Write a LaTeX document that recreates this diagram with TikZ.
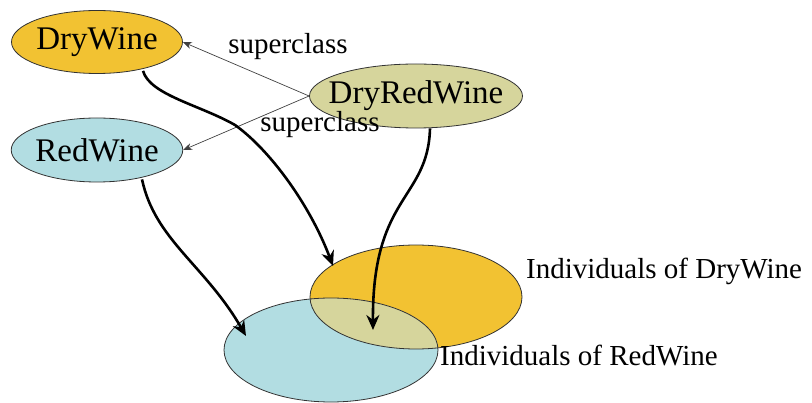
\documentclass[tikz,border=0pt]{standalone}
\usepackage{fontspec}
\setmainfont{Liberation Serif}
\usetikzlibrary{shapes.geometric,arrows.meta,calc}
\definecolor{dryc}{HTML}{F2C232}
\definecolor{redc}{HTML}{B2DDE2}
\definecolor{bothc}{HTML}{D6D59C}
\tikzset{
  cls/.style={ellipse, draw=black!80, line width=0.8pt, inner sep=0pt, font=\fontsize{33}{35}\selectfont},
  lbl/.style={font=\fontsize{29}{31}\selectfont, inner sep=0pt},
  thin/.style={draw=black!75, line width=0.7pt, -{Stealth[length=9pt,width=7pt]}},
  thick/.style={draw=black, line width=2.6pt, -{Stealth[length=15pt,width=13pt]}},
}
\begin{document}
\begin{tikzpicture}[x=1pt,y=-1pt]
\useasboundingbox (0,0) rectangle (812,403);
% Venn sets
\coordinate (dset) at (416,297);
\coordinate (rset) at (331,350);
\fill[dryc] (dset) ellipse [x radius=106, y radius=52];
\fill[redc] (rset) ellipse [x radius=107, y radius=52];
\begin{scope}
  \clip (dset) ellipse [x radius=106, y radius=52];
  \fill[bothc] (rset) ellipse [x radius=107, y radius=52];
\end{scope}
\draw[black!80, line width=0.8pt] (dset) ellipse [x radius=106, y radius=52];
\draw[black!80, line width=0.8pt] (rset) ellipse [x radius=107, y radius=52];
\node[lbl, anchor=west] (ld) at (526,271) {Individuals of DryWine};
\node[lbl, anchor=west] (lr) at (440,356) {Individuals of RedWine};
% class nodes
\node[cls, fill=dryc, inner xsep=-1pt, minimum width=171, minimum height=63] (dry) at (97,42) {DryWine};
\node[cls, fill=redc, inner xsep=-1pt, minimum width=171, minimum height=64] (red) at (97,150) {RedWine};
\node[cls, fill=bothc, inner xsep=-12.5pt, minimum width=213, minimum height=64] (dr) at (416,96) {DryRedWine};
% superclass arrows
\draw[thin] (dr.west) -- (dry.east);
\draw[thin] (dr.west) -- (red.east);
\node[lbl] (s1) at (288,47) {superclass};
\node[lbl] (s2) at (320,125) {superclass};
% extension arrows
\coordinate (t1) at (333,266);
\coordinate (t2) at (246,336);
\coordinate (t3) at (373,330);
\draw[thick] ($(dry.south)+(46,-3)$) .. controls (150,95) and (200,105) .. (235,125) .. controls (270,150) and (310,205) .. (t1);
\draw[thick] ($(red.south)+(45,-3)$) .. controls (155,240) and (205,265) .. (t2);
\draw[thick] ($(dr.south)+(14,0)$) .. controls (428,200) and (372,195) .. (t3);
\end{tikzpicture}
\end{document}
